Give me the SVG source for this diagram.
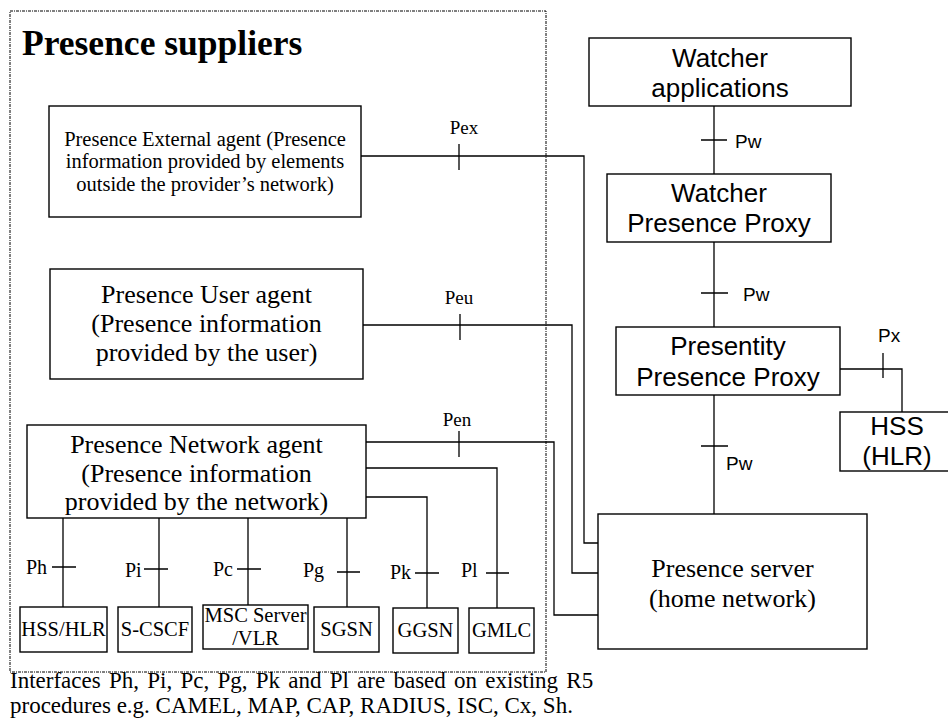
<svg xmlns="http://www.w3.org/2000/svg" width="948" height="725" viewBox="0 0 948 725">
<style>
.box{fill:#fff;stroke:#000;stroke-width:1.4}
.ln{fill:none;stroke:#000;stroke-width:1.3}
.tm{font-family:"Liberation Serif","Times New Roman",serif;fill:#000}
.ar{font-family:"Liberation Sans",Arial,sans-serif;fill:#000}
.c{text-anchor:middle}
</style>
<rect width="948" height="725" fill="#fff"/>
<g id="suppliers-frame">
<rect x="10" y="11" width="536" height="661" fill="none" stroke="#000" stroke-width="1" stroke-dasharray="3,1,1,1"/>
<text class="tm" x="22" y="55" font-size="35.5" font-weight="bold">Presence suppliers</text>
</g>
<g id="connectors">
<path class="ln" d="M361 156H584V543H598"/>
<path class="ln" d="M363 325H572V573H598"/>
<path class="ln" d="M366 442H554V615H598"/>
<path class="ln" d="M366 468H497V608"/>
<path class="ln" d="M366 497H427V608"/>
<path class="ln" d="M63 518V607M159 518V607M248 518V605M347 518V607"/>
<path class="ln" d="M714 106V174M714 242V327M714 395V514"/>
<path class="ln" d="M840 369H902V412"/>
<path class="ln" d="M459 144V170M460 314V340M459 431V457M883 353V378"/>
<path class="ln" d="M701 140H727M701 293H728M701 446H728"/>
<path class="ln" d="M52 567H76M144 569H168M237 569H261M337 572H360M415 573H439M486 573H509"/>
<g class="tm" font-size="19">
<text x="464" y="134" class="c">Pex</text>
<text x="459" y="304" class="c">Peu</text>
<text x="457" y="426" class="c">Pen</text>
</g>
<g class="tm" font-size="20">
<text x="26" y="574">Ph</text>
<text x="125" y="577">Pi</text>
<text x="213" y="576">Pc</text>
<text x="303" y="577">Pg</text>
<text x="390" y="579">Pk</text>
<text x="461" y="577">Pl</text>
</g>
<g class="ar" font-size="19">
<text x="735" y="148">Pw</text>
<text x="743" y="301">Pw</text>
<text x="726" y="470">Pw</text>
<text x="878" y="342">Px</text>
</g>
</g>
<g id="external-agent">
<rect class="box" x="49" y="106" width="312" height="111"/>
<g class="tm c" font-size="20.5">
<text x="205" y="146">Presence External agent (Presence</text>
<text x="205" y="168">information provided by elements</text>
<text x="205" y="191">outside the provider’s network)</text>
</g>
</g>
<g id="user-agent">
<rect class="box" x="50" y="269" width="313" height="110"/>
<g class="tm c" font-size="26">
<text x="206.5" y="303">Presence User agent</text>
<text x="206.5" y="332">(Presence information</text>
<text x="206.5" y="361">provided by the user)</text>
</g>
</g>
<g id="network-agent">
<rect class="box" x="27" y="425" width="339" height="93"/>
<g class="tm c" font-size="26">
<text x="196.5" y="453">Presence Network agent</text>
<text x="196.5" y="482">(Presence information</text>
<text x="196.5" y="510">provided by the network)</text>
</g>
</g>
<g id="hss-hlr">
<rect class="box" x="20" y="607" width="87" height="45"/>
<text class="tm c" x="63.5" y="636" font-size="20.5">HSS/HLR</text>
</g>
<g id="s-cscf">
<rect class="box" x="118" y="607" width="74" height="45"/>
<text class="tm c" x="155" y="636" font-size="20.5">S-CSCF</text>
</g>
<g id="msc-vlr">
<rect class="box" x="203" y="605" width="105" height="44"/>
<text class="tm c" x="255.5" y="622" font-size="20.5">MSC Server</text>
<text class="tm c" x="255.5" y="645" font-size="20.5">/VLR</text>
</g>
<g id="sgsn">
<rect class="box" x="314" y="607" width="65" height="45"/>
<text class="tm c" x="346.5" y="636" font-size="20.5">SGSN</text>
</g>
<g id="ggsn">
<rect class="box" x="393" y="608" width="65" height="45"/>
<text class="tm c" x="425.5" y="637" font-size="20.5">GGSN</text>
</g>
<g id="gmlc">
<rect class="box" x="469" y="608" width="65" height="45"/>
<text class="tm c" x="501.5" y="637" font-size="20.5">GMLC</text>
</g>
<g id="watcher-apps">
<rect class="box" x="589" y="38" width="262" height="68"/>
<text class="ar c" x="720" y="67" font-size="26">Watcher</text>
<text class="ar c" x="720" y="97" font-size="26">applications</text>
</g>
<g id="watcher-proxy">
<rect class="box" x="607" y="174" width="224" height="68"/>
<text class="ar c" x="719" y="202" font-size="26">Watcher</text>
<text class="ar c" x="719" y="232" font-size="26">Presence Proxy</text>
</g>
<g id="presentity-proxy">
<rect class="box" x="616" y="327" width="224" height="68"/>
<text class="ar c" x="728" y="355" font-size="26">Presentity</text>
<text class="ar c" x="728" y="386" font-size="26">Presence Proxy</text>
</g>
<g id="hss">
<rect class="box" x="840" y="412" width="115" height="59"/>
<text class="ar c" x="897" y="435" font-size="26">HSS</text>
<text class="ar c" x="897" y="465" font-size="26">(HLR)</text>
</g>
<g id="presence-server">
<rect class="box" x="598" y="514" width="269" height="135"/>
<text class="tm c" x="732.5" y="577" font-size="26">Presence server</text>
<text class="tm c" x="732.5" y="607" font-size="26">(home network)</text>
</g>
<g id="footnote" class="tm" font-size="23">
<text x="10" y="688" word-spacing="2.5">Interfaces Ph, Pi, Pc, Pg, Pk and Pl are based on existing R5</text>
<text x="10" y="713">procedures e.g. CAMEL, MAP, CAP, RADIUS, ISC, Cx, Sh.</text>
</g>
</svg>
